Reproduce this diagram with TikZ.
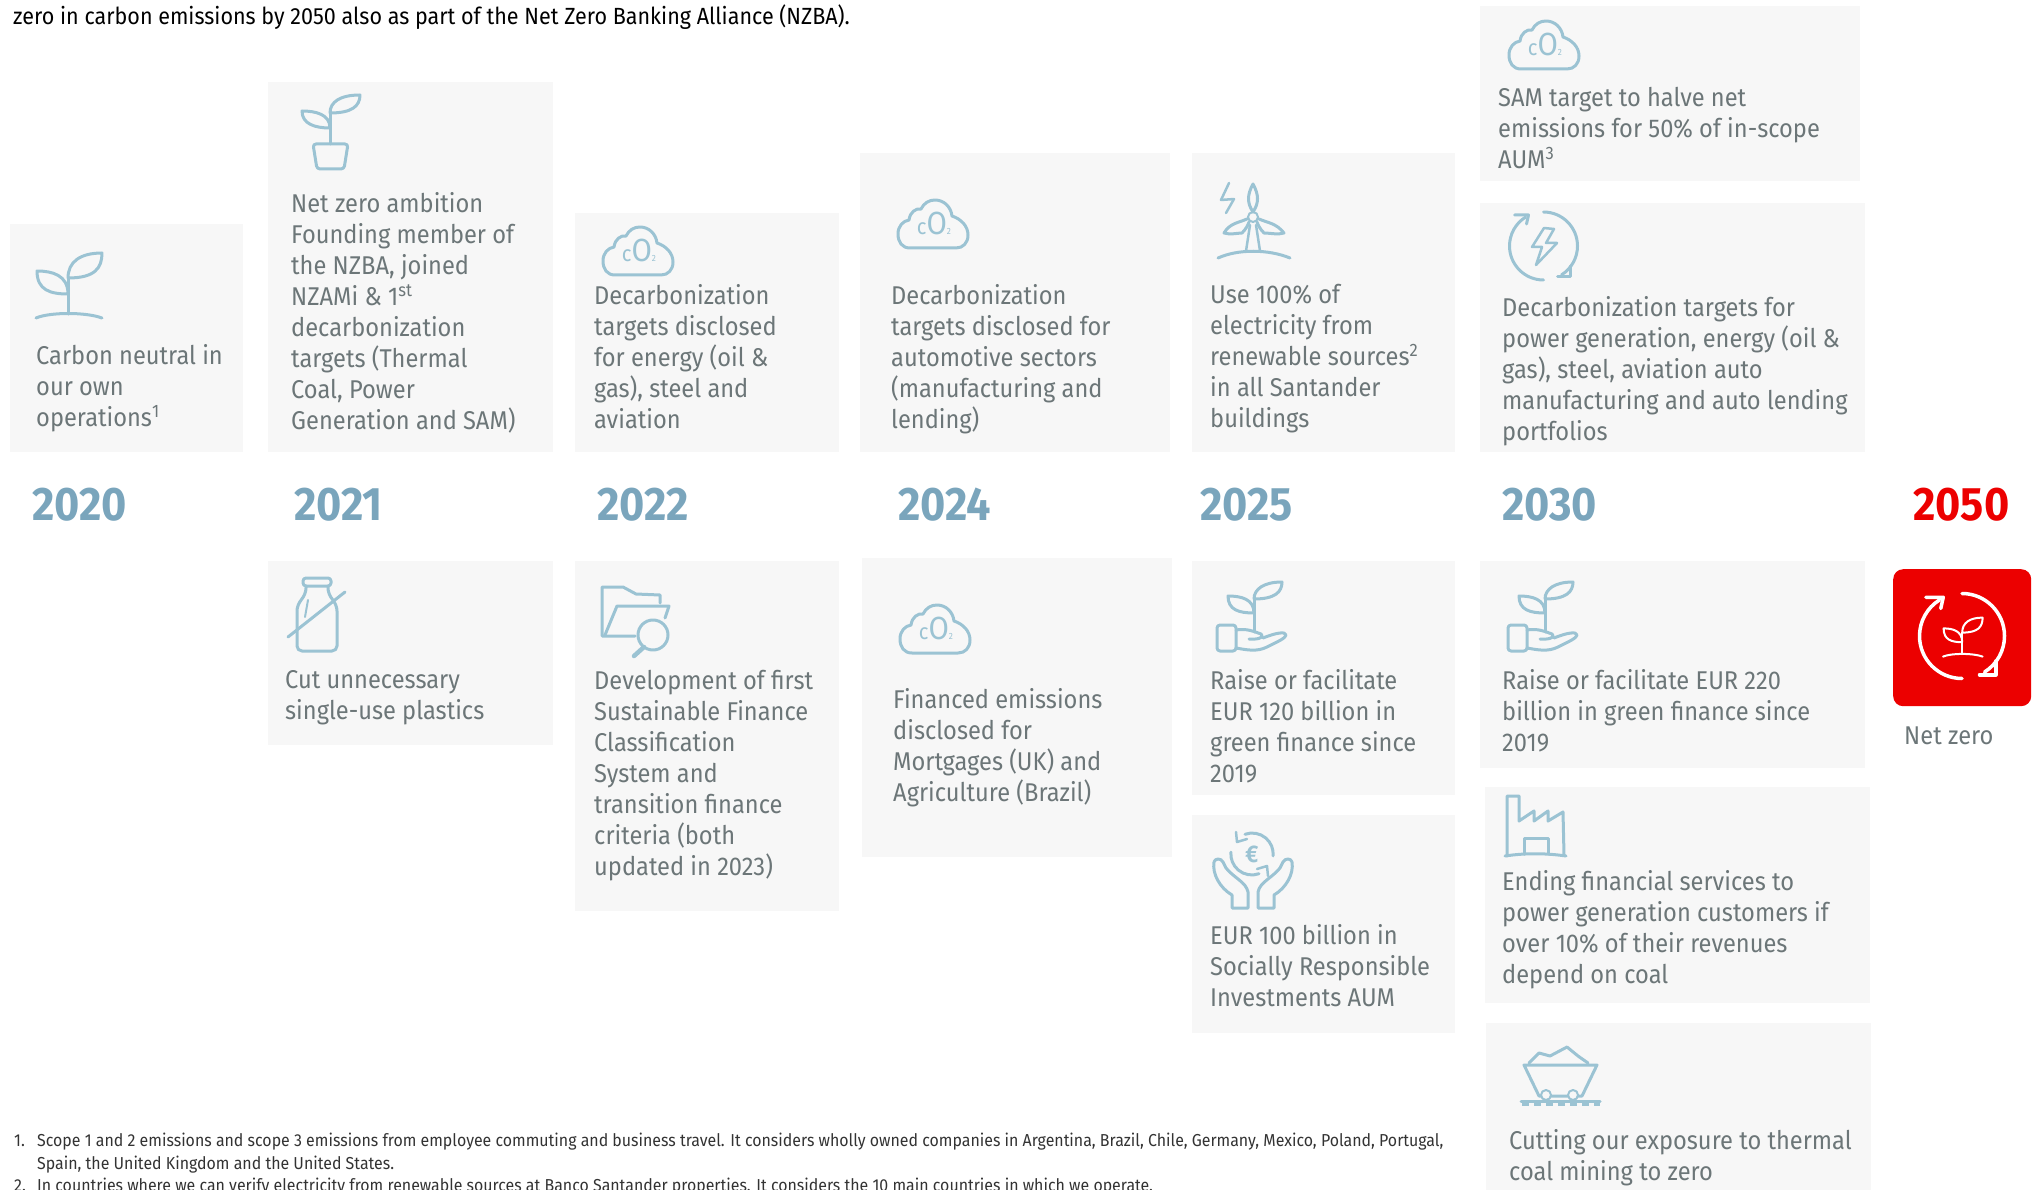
\documentclass[tikz,border=0pt]{standalone}
\usepackage{fontspec}
\setmainfont[FakeStretch=0.92]{Fira Sans}
\usetikzlibrary{positioning, arrows.meta}
\definecolor{PanelGrey}{RGB}{247, 247, 247}
\definecolor{TextGrey}{RGB}{108, 118, 120}
\definecolor{YearBlue}{RGB}{122, 165, 188}
\definecolor{IconBlue}{RGB}{155, 195, 211}
\definecolor{SantanderRed}{RGB}{236, 0, 0}
\colorlet{IconInk}{IconBlue}
\tikzset{
    panel/.style={fill=PanelGrey, anchor=north west, inner sep=0pt},
    txt/.style={anchor=north west, inner sep=0pt, yshift=-3pt, align=left, text=TextGrey, font=\fontsize{25.7}{31}\selectfont, execute at begin node=\strut},
    yearlabel/.style={anchor=base west, inner sep=0pt, text=YearBlue, font=\fontsize{47}{50}\selectfont\bfseries},
    noteline/.style={anchor=base west, inner sep=0pt, text=black!80, font=\fontsize{17.3}{23}\selectfont},
    icon/.style={draw=IconInk, line width=3pt, line cap=round, line join=round},
    thinicon/.style={draw=IconInk, line width=2pt, line cap=round, line join=round},
    % Brote con suelo
    sprout/.pic={
        \draw[icon] (32,42) .. controls (14,42) and (1,38) .. (1,19) .. controls (16,19) and (32,23) .. (32,42);
        \draw[icon] (32,26) .. controls (32,10) and (44,1) .. (66,1) .. controls (66,16) and (59,26) .. (32,26);
        \draw[icon] (32,26) -- (32,62);
        \draw[icon] (0,66) .. controls (14,60) and (50,60) .. (66,66);
    },
    % Brote en maceta
    potplant/.pic={
        \draw[icon] (30,34) .. controls (15,34) and (2,30) .. (2,17) .. controls (15,17) and (30,20) .. (30,34);
        \draw[icon] (30,19) .. controls (30,8) and (40,1) .. (60,1) .. controls (60,12) and (52,19) .. (30,19);
        \draw[icon] (30,19) -- (30,50);
        \draw[icon, rounded corners=3pt] (13,50) -- (48,50) -- (44,75) -- (17,75) -- cycle;
    },
    % Nube de CO2
    cloudco/.pic={
        \draw[icon] (12,48) .. controls (4,48) and (0,42) .. (0,34) .. controls (0,26) and (5,21) .. (11,20)
            .. controls (12,12) and (18,8) .. (23,9) .. controls (26,3) and (31,0) .. (37,0)
            .. controls (46,0) and (53,7) .. (54,16) .. controls (63,19) and (70,26) .. (70,35)
            .. controls (70,43) and (65,48) .. (58,48) -- cycle;
        \node[inner sep=0pt, text=IconInk, font=\fontsize{32}{32}\selectfont] (co) at (36,23) {{\fontsize{22}{22}\selectfont c}O{\fontsize{9}{9}\selectfont 2}};
    },
    % Mano con brote
    handplant/.pic={
        \draw[icon] (37,31) .. controls (22,31) and (11,28) .. (11,14) .. controls (24,14) and (37,17) .. (37,31);
        \draw[icon] (37,17) .. controls (37,7) and (47,0) .. (65,0) .. controls (65,10) and (58,17) .. (37,17);
        \draw[icon] (37,17) -- (37,50);
        \draw[icon, rounded corners=3pt] (19,43) -- (0,43) -- (0,69) -- (19,69) -- cycle;
        \draw[icon] (19,48) .. controls (30,46) and (38,50) .. (44,52) .. controls (47,54) and (44,58) .. (32,57);
        \draw[icon] (19,66) .. controls (30,68) and (40,70) .. (50,65) .. controls (60,60) and (69,56) .. (69,53) .. controls (69,49) and (58,51) .. (46,56);
    },
    % Flechas circulares
    turnarrows/.pic={
        \draw[icon] (-90:34) arc (-90:58:34);
        \draw[icon] (90:34) arc (90:238:34);
        \draw[icon] (-29,-31) -- (-15,-31) -- (-17,-22);
        \draw[icon] (14,31) -- (27,31) -- (27,20);
    }
}
\begin{document}
\begin{tikzpicture}[x=1pt, y=-1pt]
    \useasboundingbox (0,0) rectangle (2034,1190);

    % Cajas de arriba
    \node[panel, minimum width=233pt, minimum height=228pt] (boxA) at (10,224) {};
    \node[panel, minimum width=285pt, minimum height=370pt] (boxB) at (268,82) {};
    \node[panel, minimum width=264pt, minimum height=239pt] (boxC) at (575,213) {};
    \node[panel, minimum width=310pt, minimum height=299pt] (boxD) at (860,153) {};
    \node[panel, minimum width=263pt, minimum height=299pt] (boxE) at (1192,153) {};
    \node[panel, minimum width=380pt, minimum height=175pt] (boxF) at (1480,6) {};
    \node[panel, minimum width=385pt, minimum height=249pt] (boxG) at (1480,203) {};

    % Cajas de abajo
    \node[panel, minimum width=285pt, minimum height=184pt] (boxH) at (268,561) {};
    \node[panel, minimum width=264pt, minimum height=350pt] (boxI) at (575,561) {};
    \node[panel, minimum width=310pt, minimum height=299pt] (boxJ) at (862,558) {};
    \node[panel, minimum width=263pt, minimum height=234pt] (boxK) at (1192,561) {};
    \node[panel, minimum width=263pt, minimum height=218pt] (boxL) at (1192,815) {};
    \node[panel, minimum width=385pt, minimum height=207pt] (boxM) at (1480,561) {};
    \node[panel, minimum width=385pt, minimum height=216pt] (boxN) at (1485,787) {};
    \node[panel, minimum width=385pt, minimum height=167pt] (boxO) at (1486,1023) {};
    \node[panel, fill=SantanderRed, rounded corners=10pt, minimum width=138pt, minimum height=137pt] (boxRed) at (1893,569) {};

    % Textos de arriba
    \node[anchor=base west, inner sep=0pt, text=black, font=\fontsize{23.4}{31}\selectfont] (intro) at (13,25) {zero in carbon emissions by 2050 also as part of the Net Zero Banking Alliance (NZBA).};
    \node[txt] (txtA) at (36,341) {Carbon neutral in\\our own\\operations\textsuperscript{1}};
    \node[txt] (txtB) at (291,189) {Net zero ambition\\Founding member of\\the NZBA, joined\\NZAMi \& 1\textsuperscript{st}\\decarbonization\\targets (Thermal\\Coal, Power\\Generation and SAM)};
    \node[txt] (txtC) at (594,281) {Decarbonization\\targets disclosed\\for energy (oil \&\\gas), steel and\\aviation};
    \node[txt] (txtD) at (891,281) {Decarbonization\\targets disclosed for\\automotive sectors\\(manufacturing and\\lending)};
    \node[txt] (txtE) at (1210,281) {Use 100\% of\\electricity from\\renewable sources\textsuperscript{2}\\in all Santander\\buildings};
    \node[txt] (txtF) at (1498,84) {SAM target to halve net\\emissions for 50\% of in-scope\\AUM\textsuperscript{3}};
    \node[txt] (txtG) at (1502,293) {Decarbonization targets for\\power generation, energy (oil \&\\gas), steel, aviation auto\\manufacturing and auto lending\\portfolios};

    % Años
    \node[yearlabel] (y2020) at (32,520) {2020};
    \node[yearlabel] (y2021) at (294,520) {2021};
    \node[yearlabel] (y2022) at (597,520) {2022};
    \node[yearlabel] (y2024) at (898,520) {2024};
    \node[yearlabel] (y2025) at (1200,520) {2025};
    \node[yearlabel] (y2030) at (1502,520) {2030};
    \node[yearlabel, text=SantanderRed] (y2050) at (1913,520) {2050};

    % Textos de abajo
    \node[txt] (txtH) at (285,667) {Cut unnecessary\\single-use plastics};
    \node[txt] (txtI) at (594,667) {Development of first\\Sustainable Finance\\Classification\\System and\\transition finance\\criteria (both\\updated in 2023)};
    \node[txt] (txtJ) at (893,685) {Financed emissions\\disclosed for\\Mortgages (UK) and\\Agriculture (Brazil)};
    \node[txt] (txtK) at (1210,666) {Raise or facilitate\\EUR 120 billion in\\green finance since\\2019};
    \node[txt] (txtL) at (1210,921) {EUR 100 billion in\\Socially Responsible\\Investments AUM};
    \node[txt] (txtM) at (1502,666) {Raise or facilitate EUR 220\\billion in green finance since\\2019};
    \node[txt] (txtN) at (1502,867) {Ending financial services to\\power generation customers if\\over 10\% of their revenues\\depend on coal};
    \node[txt] (txtO) at (1509,1126) {Cutting our exposure to thermal\\coal mining to zero};
    \node[txt] (txtNet) at (1904,720) {Net zero};

    % Notas
    \node[noteline] (num1) at (14,1146) {1.};
    \node[noteline] (note1) at (37,1146) {Scope 1 and 2 emissions and scope 3 emissions from employee commuting and business travel. It considers wholly owned companies in Argentina, Brazil, Chile, Germany, Mexico, Poland, Portugal,};
    \node[noteline] (note1b) at (37,1169) {Spain, the United Kingdom and the United States.};
    \node[noteline] (num2) at (14,1191) {2.};
    \node[noteline] (note2) at (37,1191) {In countries where we can verify electricity from renewable sources at Banco Santander properties. It considers the 10 main countries in which we operate.};

    % Iconos repetidos
    \pic at (36,252) {sprout};
    \pic at (300,94) {potplant};
    \pic at (603,227) {cloudco};
    \pic at (898,200) {cloudco};
    \pic at (1509,21) {cloudco};
    \pic at (900,605) {cloudco};
    \pic at (1217,582) {handplant};
    \pic at (1508,582) {handplant};
    \pic at (1543.5,246) {turnarrows};

    % Rayo del icono circular
    \draw[icon, line width=2.5pt] (1544,228) -- (1532,247) -- (1542,247) -- (1536,265) -- (1557,243) -- (1546,243) -- (1554,229) -- cycle;

    % Aerogenerador
    \begin{scope}[shift={(1218,183)}]
        \draw[thinicon, line width=2.5pt] (11,0) -- (3,17) -- (16,16) -- (8,30);
        \draw[icon] (35,29) .. controls (29,20) and (29,12) .. (35,1) .. controls (41,12) and (41,20) .. (35,29);
        \draw[icon] (29,36) .. controls (20,40) and (12,40) .. (6,50) .. controls (12,52) and (20,50) .. (24,50) .. controls (28,46) and (30,42) .. (31,39);
        \draw[icon] (41,36) .. controls (50,40) and (58,40) .. (66,50) .. controls (60,52) and (52,50) .. (46,50) .. controls (42,46) and (40,42) .. (39,39);
        \draw[thinicon] (35,34) circle (5);
        \draw[thinicon, line width=2.5pt] (32,42) -- (28,68) (38,42) -- (42,68);
        \draw[icon] (0,75) .. controls (20,66) and (50,66) .. (72,75);
    \end{scope}

    % Botella tachada
    \begin{scope}[shift={(288,578)}]
        \draw[icon, rounded corners=3pt] (15,0) -- (43,0) -- (43,8) -- (15,8) -- cycle;
        \draw[icon, rounded corners=5pt] (18,8) -- (18,15) -- (9,28) -- (9,73) -- (49,73) -- (49,28) -- (40,15) -- (40,8);
        \draw[thinicon] (20,22) -- (17,39);
        \draw[icon] (0,59) -- (57,14);
    \end{scope}

    % Carpeta con lupa
    \begin{scope}[shift={(602,587)}]
        \draw[icon] (33,49) -- (0,49) -- (0,0) -- (21,0) -- (34,7) -- (58,8) -- (58,16);
        \draw[icon] (3,48) -- (15,19) -- (67,19) -- (63,31);
        \draw[icon] (51,48) circle (15);
        \draw[icon, line width=4.5pt] (42,60) -- (32,69);
    \end{scope}

    % Manos con euro
    \begin{scope}[shift={(1214,832)}]
        \draw[icon] (31,2.3) arc (-110:5:21);
        \draw[icon] (45,41.7) arc (70:185:21);
        \draw[icon, line width=2.5pt] (22,0) -- (23,10) -- (33,7);
        \draw[icon, line width=2.5pt] (54,44) -- (53,34) -- (43,37);
        \node[inner sep=0pt, text=IconInk, font=\fontsize{24}{24}\selectfont\bfseries] (euro) at (38,22) {€};
        \draw[icon] (0,30) .. controls (-2,42) and (6,56) .. (18,63) -- (18,76) -- (34,76) -- (34,60) .. controls (32,50) and (20,46) .. (12,36) -- (9,30) .. controls (7,26) and (1,26) .. (0,30);
        \draw[icon] (78,30) .. controls (80,42) and (72,56) .. (60,63) -- (60,76) -- (44,76) -- (44,60) .. controls (46,50) and (58,46) .. (66,36) -- (69,30) .. controls (71,26) and (77,26) .. (78,30);
    \end{scope}

    % Fábrica
    \begin{scope}[shift={(1505,796)}]
        \draw[icon] (2,60) -- (2,0) -- (14,0) -- (14,25) -- (29,15) -- (29,25) -- (43,15) -- (43,25) -- (58,16) -- (59,59);
        \draw[icon] (0,60) .. controls (20,57) and (40,57) .. (61,60);
        \draw[icon] (19,58) -- (19,42) -- (43,42) -- (43,58);
    \end{scope}

    % Vagoneta
    \begin{scope}[shift={(1521,1047)}]
        \draw[icon] (8,16) -- (18,6) -- (29,9) -- (46,0) -- (57,9) -- (67,16);
        \draw[icon] (3,18) -- (76,18) -- (61,49) -- (18,49) -- cycle;
        \draw[thinicon, fill=PanelGrey] (25,48) circle (5);
        \draw[thinicon, fill=PanelGrey] (52,48) circle (5);
        \draw[icon] (0,54) -- (79,54);
        \draw[thinicon, line width=3.5pt, line cap=butt, dash pattern=on 7pt off 5pt] (1,57) -- (79,57);
    \end{scope}

    % Icono rojo
    \begin{scope}
        \colorlet{IconInk}{white}
        \tikzset{icon/.append style={line width=2pt}}
        \pic[scale=0.6] at (1943,617) {sprout};
        \tikzset{icon/.append style={line width=3.5pt}}
        \pic[scale=1.25] at (1962,636) {turnarrows};
    \end{scope}
\end{tikzpicture}
\end{document}
